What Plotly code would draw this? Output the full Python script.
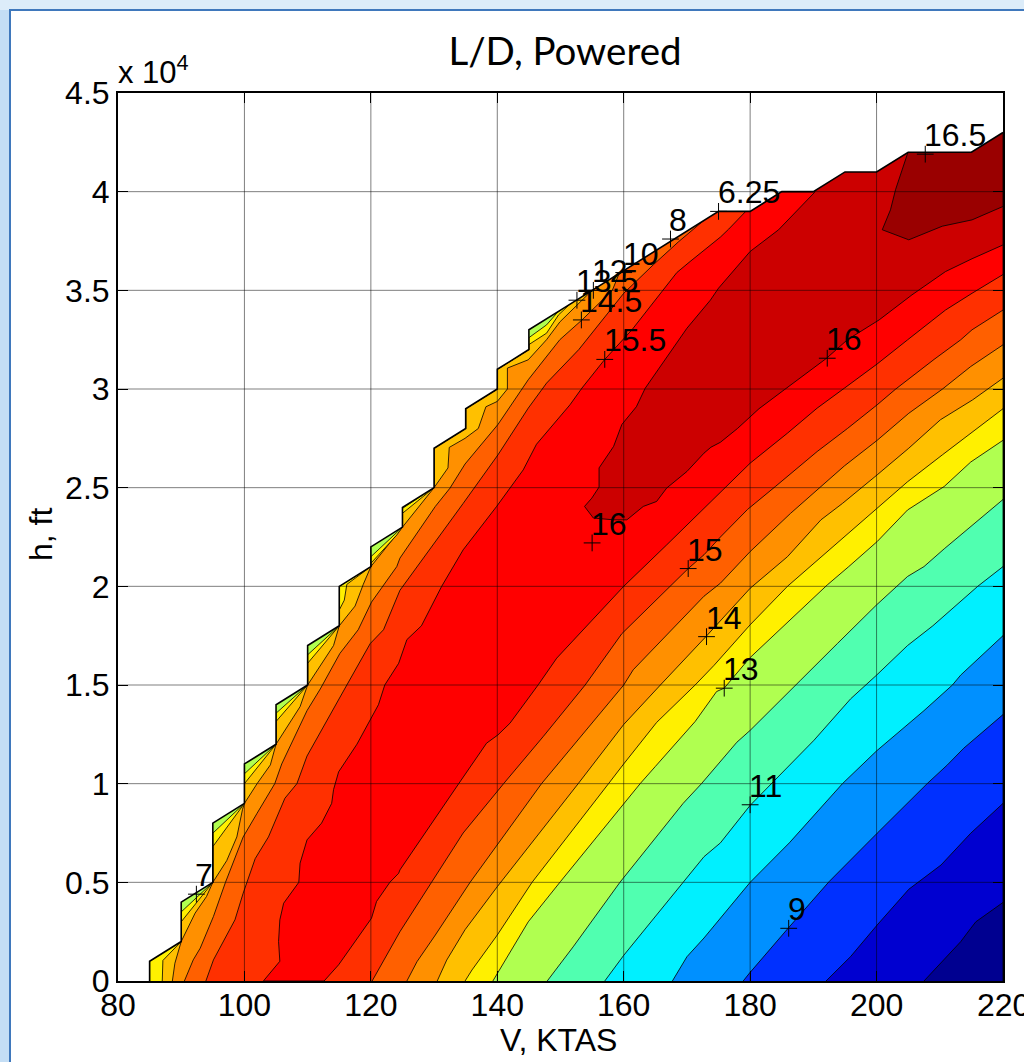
import plotly.graph_objects as go

# ---------- envelope of the data (V in KTAS, h in thousands of ft) ----------
env_V = [85, 85, 90, 90, 95, 95, 100, 100, 105, 105, 110, 110, 115, 115, 120, 120, 125, 125, 130, 130, 135, 135, 140, 140, 145, 145, 150, 155, 160, 165, 170, 175, 180, 185, 190, 195, 200, 205, 215, 220]
env_h = [0, 1, 2, 4, 5, 8, 9, 11, 12, 14, 15, 17, 18, 20, 21, 22, 23, 24, 25, 27, 28, 29, 30, 31, 32, 33, 34, 35, 36, 37, 38, 39, 39, 40, 40, 41, 41, 42, 42, 43]

# ---------- contour lines on the high-speed side ----------
A_V = [207.5, 213.3, 214.9, 215.7, 220]
A_h = [0, 1.99, 2.67, 3.0, 3.98]
B_V = [192, 195.9, 200.1, 205.1, 210.2, 214.9, 220]
B_h = [0, 1.24, 2.84, 4.65, 5.88, 7.49, 9]
C_V = [178.9, 179.9, 186, 192.5, 200.1, 204.9, 208, 211.2, 213.8, 220]
C_h = [0, 0.4, 2.67, 5.04, 7.49, 9, 10, 10.95, 11.8, 13.5]
D_V = [167.7, 170, 172.7, 175.1, 180, 186.2, 194.6, 200, 207.5, 212, 213.3, 220]
D_h = [0, 1.23, 2.18, 3.09, 5, 7, 10, 11.66, 13.7, 15, 15.5, 17.5]
E_V = [157, 160, 169.4, 172.7, 175.3, 180, 190.1, 195.9, 200, 204.9, 208.9, 216, 220]
E_h = [0, 1.3, 5, 6.3, 7, 8.9, 12.2, 14.3, 15.5, 17, 18, 20, 21]
F_V = [147.9, 152, 159.4, 169.4, 172.3, 177.9, 180, 184.8, 188, 193.8, 200, 204.9, 207.5, 210.7, 220]
F_h = [0, 1.73, 5, 9, 10, 12.1, 12.7, 14.2, 15.25, 17.1, 19.06, 20.5, 21, 21.9, 24.4]
G_V = [139.3, 141, 144.9, 150, 160, 162.6, 165, 171.3, 174.7, 175.9, 179.9, 188, 192.2, 195.6, 200.1, 204.9, 210.7, 214.9, 220]
G_h = [0, 0.9, 3, 5.04, 9, 10, 10.87, 13.15, 14.67, 14.84, 16.36, 18.8, 20.07, 21, 22.27, 23.87, 25.06, 26.3, 27.4]
H_V = [134.9, 136, 140, 145.5, 157.6, 160, 165.2, 171.3, 174.3, 180, 185.9, 194.9, 200, 204.9, 210.4, 215.4, 220]
H_h = [0, 0.56, 2.33, 5, 10, 11, 13.1, 15, 16, 18.05, 20, 22.5, 23.96, 25.3, 26.66, 27.9, 29]
I_V = [130.5, 132, 134.9, 140, 152.8, 160, 165.8, 173, 180, 185.9, 191.2, 194.6, 200.1, 205.1, 210.1, 215.2, 220]
I_h = [0, 1.06, 2.6, 4.78, 10, 13, 15, 17.45, 19.9, 21.5, 23.37, 24.2, 25.65, 27, 28.44, 29.45, 30.55]
J_V = [125.7, 127.3, 130.2, 135.7, 147, 160, 161.5, 172.7, 175.3, 180, 186.4, 190.6, 194.9, 200.1, 205.1, 210.4, 214.9, 220]
J_h = [0, 0.98, 2.33, 5, 10, 15, 15.77, 19.5, 20.16, 21.76, 23.7, 24.89, 26.1, 27.4, 28.77, 29.99, 31.14, 32.24]
K_V = [120.2, 124.6, 129.6, 134.6, 141, 147.3, 153.9, 159.7, 170.2, 172.7, 175.3, 179.6, 184, 190.6, 195.4, 200.1, 203, 209.1, 213.3, 215.1, 220]
K_h = [0, 2.5, 5, 7.5, 10, 12.4, 15, 17.6, 20.9, 21.6, 22.5, 23.9, 25.06, 26.83, 28, 29.2, 29.99, 31.5, 32.49, 33, 34]
L_V = [112.6, 114.9, 120.1, 120.9, 123, 124.4, 124.6, 129.6, 133.9, 138.3, 140.1, 142, 146.5, 149.4, 160, 166.8, 172.7, 176.1, 180, 185.9, 190.6, 194.9, 200.1, 204.9, 210.9, 215.1, 220]
L_h = [0, 0.82, 3.18, 4.03, 5, 5.46, 5.63, 8, 10, 12.05, 12.47, 13.06, 15.02, 16.36, 20, 22.1, 23.96, 25.06, 26.24, 27.76, 29.03, 30.04, 31.27, 32.49, 34, 34.85, 35.8]

# ---------- contour lines on the low-speed side ----------
M_V = [103, 105.6, 105.4, 105.6, 106.2, 108.6, 108.8, 109.9, 112.2, 113.8, 114.1, 114.9, 117.8, 120.1, 121.2, 122.2, 124.4, 125.7, 128, 131.2, 134.6, 139.9, 144.1, 146.2, 151.5, 153.4, 157, 161.3, 166.3, 168.4, 170.5, 175.3, 176.6, 179.3]
M_h = [0, 1, 2, 3.1, 3.94, 5, 5.97, 7.15, 8, 9, 9.7, 10.6, 12, 13.4, 14, 15, 16.1, 17.3, 18, 20, 21.85, 24.05, 25.9, 27.2, 29.2, 30.05, 31.5, 33, 35, 35.9, 36.46, 37.7, 38.1, 39]
N_V = [93.9, 95.1, 98.5, 99.8, 101.7, 103.8, 106.4, 108.3, 109.9, 114.9, 116.2, 119.9, 122, 124.6, 129.9, 134.6, 140.1, 144.9, 147.8, 152.9, 160, 164.7, 168.7, 174, 175]
N_h = [0, 1.07, 3.1, 4.45, 6.2, 7.3, 9.26, 10, 11.4, 14.3, 15, 17.1, 17.8, 19.8, 22.1, 24.2, 26.66, 29.03, 30.3, 32, 34.85, 36.3, 37.47, 38.9, 39]
O_V = [90.5, 91.9, 93, 95.1, 97, 99.8, 102, 104.8, 105.9, 109.9, 112, 115.1, 118, 120.1, 124.1, 124.6, 130.2, 132.5, 134.9, 140.1, 144.9, 149.9, 153.4, 158.2, 159.4]
O_h = [0, 1.07, 1.66, 3.27, 5, 7.3, 8.5, 10, 11, 13.7, 14.8, 16.6, 17.8, 19.2, 21, 21.43, 24.05, 24.97, 26.2, 28.2, 30.47, 32.5, 33.5, 35, 35.95]
P_V = [88.6, 89, 90, 92.2, 94, 95, 97.2, 98.8, 99.7, 100, 102, 104.1, 105, 108.8, 110, 114.1, 115, 117.5, 118.8, 120, 122.5, 125, 127.3, 130, 132.2, 132.4, 134.9, 137, 138.2, 140, 141.6, 141.6, 144.9, 147.8, 149.9, 154.1, 155]
P_h = [0, 0.9, 2, 3.44, 4.28, 5, 6.1, 7.3, 8.7, 9, 10, 10.95, 12, 13.9, 15, 17, 18, 19, 20.1, 21, 22, 23, 23.9, 25, 26, 27.04, 27.5, 28, 29.1, 29.37, 30, 31.06, 31.48, 32.5, 33.4, 34.7, 35]
Q_V = [87, 87.1, 90, 90, 95, 95, 100, 100, 105, 105, 110, 110, 115, 115, 115.8, 116.2, 120, 120, 124.1, 125, 125, 130, 130, 135, 135, 140, 140, 145, 145, 147.8, 149.7, 151.5]
Q_h = [0, 1.04, 2, 3, 5, 6.81, 9, 10, 12, 13.15, 15, 16.1, 18, 18.8, 19.3, 20.1, 21, 21.17, 22.6, 23, 23.7, 25, 27, 28, 29, 30, 31, 32, 32.25, 32.83, 33.76, 34.3]
R_V = [85, 85, 90, 90, 95, 95, 100, 100, 105, 105, 110, 110, 115, 115, 120, 120, 125, 125, 130, 130, 135, 135, 140, 140, 145, 145, 147.8, 149.4, 150]
R_h = [0, 1, 2, 3.5, 5, 7.49, 9, 10.5, 12, 13.57, 15, 16.53, 18, 20, 21, 21.5, 23, 23.95, 25, 27, 28, 29, 30, 31, 32, 32.6, 33.25, 33.84, 34]

# ---------- closed contours reaching the envelope at the top ----------
c16_V = [190.3, 184.5, 180, 175, 173.7, 170, 163.4, 162, 159.7, 158.4, 156.1, 156.1, 154.95, 153.8, 155.2, 158.4, 160.5, 163.1, 165.2, 166.8, 170, 172.7, 173.8, 175.3, 178, 181.4, 185.4, 190.1, 192.1, 195.4, 200.4, 205.6, 210.9, 215.1, 220]
c16_h = [40, 38.07, 36.97, 35.11, 34.5, 33.08, 30.04, 29.1, 28.2, 27.09, 26, 25.03, 24.47, 24.05, 23.46, 23.37, 23.37, 24.05, 24.3, 24.98, 25.82, 26.75, 27.05, 27.3, 28, 29, 29.96, 31.05, 31.56, 32.5, 33.5, 34.77, 35.95, 36.6, 37.3]
c165_V = [205, 203, 202.2, 200.9, 205.1, 210.4, 215.1, 220]
c165_h = [42.03, 40.1, 39.08, 38.07, 37.56, 38.25, 38.57, 39.25]

# ---------- band colours ----------
band_peak = "#ff0000"
band_16 = "#cc0000"
band_165 = "#9a0000"
right_lines = [(L_V, L_h, "#ff3000"), (K_V, K_h, "#ff6000"), (J_V, J_h, "#ff9000"), (I_V, I_h, "#ffc000"),
               (H_V, H_h, "#fff000"), (G_V, G_h, "#b0ff50"), (F_V, F_h, "#50ffb0"), (E_V, E_h, "#00f0ff"),
               (D_V, D_h, "#0090ff"), (C_V, C_h, "#0030ff"), (B_V, B_h, "#0000d0"), (A_V, A_h, "#000090")]
left_lines = [(M_V, M_h, "#ff3000"), (N_V, N_h, "#ff6000"), (O_V, O_h, "#ff9000"),
              (P_V, P_h, "#ffc000"), (Q_V, Q_h, "#fff000"), (R_V, R_h, "#b0ff50")]

# ---------- contour labels ----------
label_text = ["7", "6.25", "8", "10", "12", "13.5", "14.5", "15.5", "16", "16", "15", "14", "13", "11", "9", "16.5"]
label_V = [92.4, 175, 167.4, 160, 155.2, 152.6, 153.3, 157, 192.2, 155, 170.2, 173.1, 175.9, 180, 186.1, 207.7]
label_h = [4.4, 39, 37.6, 35.9, 35, 34.5, 33.5, 31.5, 31.56, 22.2, 20.9, 17.45, 14.84, 8.93, 2.67, 41.9]

# ---------- axes ----------
x_ticks = [80, 100, 120, 140, 160, 180, 200, 220]
y_ticks = [0, 5000, 10000, 15000, 20000, 25000, 30000, 35000, 40000, 45000]
y_tick_text = ["0", "0.5", "1", "1.5", "2", "2.5", "3", "3.5", "4", "4.5"]

W, H = 1024, 1062
SANS = "Liberation Sans, Arial, sans-serif"
BLACK_LINE = dict(color="black", width=0.8)
FONT = dict(family=SANS, size=32, color="black")


def ft(values):
    return [v * 1000 for v in values]


def band(xs, ys, colour):
    return go.Scatter(x=xs, y=ft(ys), mode="lines", fill="toself", fillcolor=colour,
                      line=BLACK_LINE, hoverinfo="skip", showlegend=False)


fig = go.Figure()
fig.add_trace(band([80] + env_V + [220, 80], [0] + env_h + [0, 0], band_peak))
fig.add_trace(band(c16_V + [220, 190.3], c16_h + [45, 45], band_16))
fig.add_trace(band(c165_V + [220, 205], c165_h + [45, 45], band_165))
for xs, ys, colour in right_lines:
    fig.add_trace(band(xs + [220], ys + [0], colour))
for xs, ys, colour in left_lines:
    fig.add_trace(band(xs + [80, 80], ys + [45, 0], colour))
fig.add_trace(go.Scatter(x=[80] + env_V + [220, 80], y=ft([0] + env_h + [45, 45]), mode="lines",
                         fill="toself", fillcolor="white", line=dict(width=0),
                         hoverinfo="skip", showlegend=False))
fig.add_trace(go.Scatter(x=env_V, y=ft(env_h), mode="lines", line=dict(color="black", width=1.6),
                         hoverinfo="skip", showlegend=False))
fig.add_trace(go.Scatter(x=label_V, y=ft(label_h), mode="markers",
                         marker=dict(symbol="cross-thin", size=12, line=dict(color="black", width=1)),
                         hoverinfo="skip", showlegend=False))

shapes = [
    dict(type="rect", xref="paper", yref="paper", x0=-0.01, x1=1.01, y0=1 - 10 / H, y1=1.01,
         fillcolor="#dcecf9", line=dict(width=0), layer="below"),
    dict(type="rect", xref="paper", yref="paper", x0=10 / W, x1=1.02, y0=-0.02, y1=1 - 10 / H,
         fillcolor="white", line=dict(color="#3f78bc", width=2), layer="below"),
]
for v in x_ticks[1:-1]:
    shapes.append(dict(type="line", xref="x", yref="y", x0=v, x1=v, y0=0, y1=45000,
                       line=dict(color="rgba(0,0,0,0.5)", width=1), layer="above"))
for v in y_ticks[1:-1]:
    shapes.append(dict(type="line", xref="x", yref="y", x0=80, x1=220, y0=v, y1=v,
                       line=dict(color="rgba(0,0,0,0.5)", width=1), layer="above"))

annotations = [dict(text="x 10<sup>4</sup>", xref="paper", yref="paper", x=116 / W, y=1 - 92 / H,
                    xanchor="left", yanchor="bottom", showarrow=False,
                    font=dict(family=SANS, size=31, color="black")),
               dict(text="V, KTAS", xref="paper", yref="paper", x=558 / W, y=1 - 1040 / H,
                    xanchor="center", yanchor="middle", showarrow=False, font=FONT),
               dict(text="h, ft", xref="paper", yref="paper", x=41 / W, y=1 - 535 / H, textangle=-90,
                    xanchor="center", yanchor="middle", showarrow=False, font=FONT),
               # the last tick label runs past the window edge, as in the reference
               dict(text=str(x_ticks[-1]), xref="x", yref="paper", x=x_ticks[-1], y=1 - 1005 / H,
                    xanchor="center", yanchor="middle", showarrow=False, font=FONT)]
for txt, v, h in zip(label_text, label_V, label_h):
    annotations.append(dict(text=txt, x=v, y=h * 1000, xref="x", yref="y", xanchor="left", yanchor="bottom",
                            showarrow=False, font=FONT, borderpad=0, xshift=-2))

axis_common = dict(showgrid=False, zeroline=False, showline=True, linecolor="black", linewidth=2,
                   mirror="ticks", ticks="inside", ticklen=10, tickwidth=1, tickcolor="black",
                   automargin=False, tickfont=FONT)

fig.update_layout(
    width=W, height=H, autosize=False,
    paper_bgcolor="#c4def5", plot_bgcolor="rgba(0,0,0,0)",
    margin=dict(l=0, r=0, t=0, b=0, pad=0),
    showlegend=False, shapes=shapes, annotations=annotations,
    title=dict(text="L/D, Powered", x=565 / W, xanchor="center", xref="paper",
               y=1 - 52 / H, yanchor="middle", yref="container",
               font=dict(family="Lato, Carlito, sans-serif", size=38.5, color="black")),
    xaxis=dict(domain=[118 / W, 1003 / W], range=[80, 220], tickmode="array", tickvals=x_ticks,
               ticktext=[str(v) for v in x_ticks[:-1]] + [""], ticklabelstandoff=-5, **axis_common),
    yaxis=dict(domain=[1 - 981 / H, 1 - 93 / H], range=[0, 45000], tickmode="array", tickvals=y_ticks,
               ticktext=y_tick_text, **axis_common),
)

fig.write_html("out.html", config={"displayModeBar": False},
               post_script="document.body.style.margin='0';")
